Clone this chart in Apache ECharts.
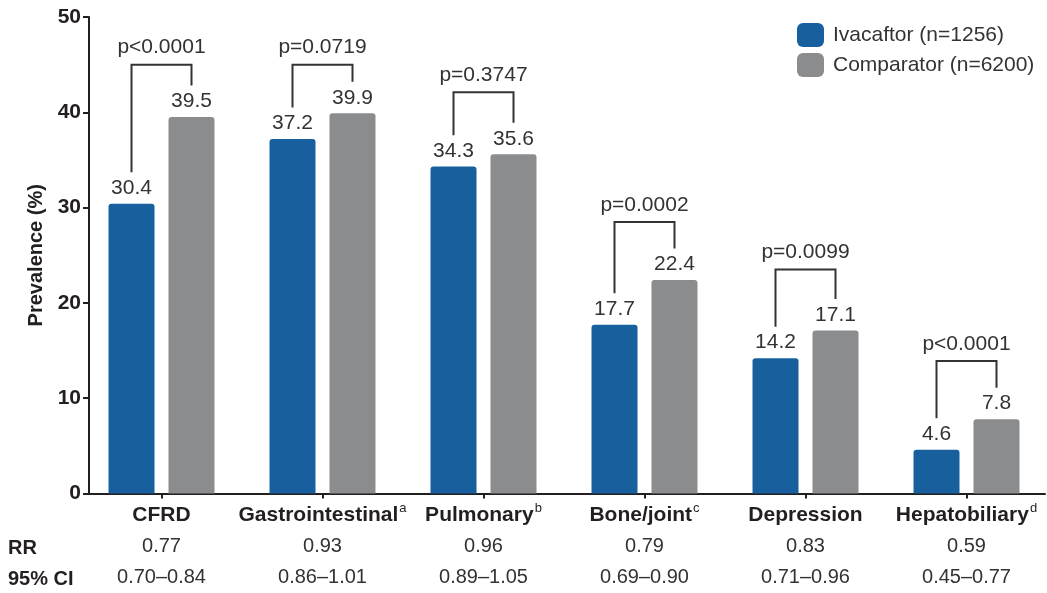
<!DOCTYPE html>
<html>
<head>
<meta charset="utf-8">
<script src="https://cdn.jsdelivr.net/npm/echarts@6/dist/echarts.min.js"></script>
<style>
  html, body { margin: 0; padding: 0; background: #ffffff; }
  #chart { width: 1047px; height: 593px; }
</style>
</head>
<body>
<div id="chart"></div>
<script>
// Comorbidity prevalence, ivacaftor vs comparator
const categories = ['CFRD', 'Gastrointestinal', 'Pulmonary', 'Bone/joint', 'Depression', 'Hepatobiliary'];
const footnotes = ['', 'a', 'b', 'c', '', 'd'];
const ivacaftor = [30.4, 37.2, 34.3, 17.7, 14.2, 4.6];
const comparator = [39.5, 39.9, 35.6, 22.4, 17.1, 7.8];
const pValues = ['p<0.0001', 'p=0.0719', 'p=0.3747', 'p=0.0002', 'p=0.0099', 'p<0.0001'];
const bracketTop = [45.0, 45.0, 42.1, 28.5, 23.5, 13.9];
const riskRatio = ['0.77', '0.93', '0.96', '0.79', '0.83', '0.59'];
const ci95 = ['0.70–0.84', '0.86–1.01', '0.89–1.05', '0.69–0.90', '0.71–0.96', '0.45–0.77'];
const seriesNames = ['Ivacaftor (n=1256)', 'Comparator (n=6200)'];
const rowHeads = ['RR', '95% CI'];

const FONT = '"Liberation Sans", Arial, Helvetica, sans-serif';
const BLUE = '#17609d';
const GREY = '#8a8c8e';
const INK = '#231f20';
const TEXT = '#333333';
const BAR_W = 46;
const BAR_GAP = 14;
const LEG_GAP = 3.3;   // space between a bar's value and its bracket leg, in axis units

const chart = echarts.init(document.getElementById('chart'), null, { renderer: 'canvas' });

const bracketData = categories.map((c, i) => [i, bracketTop[i], ivacaftor[i], comparator[i]]);

function renderBracket(params, api) {
  const i = api.value(0);
  const top = api.value(1);
  const half = (BAR_W + BAR_GAP) / 2;
  const pTop = api.coord([i, top]);
  const yL = api.coord([i, api.value(2) + LEG_GAP])[1];
  const yR = api.coord([i, api.value(3) + LEG_GAP])[1];
  const xL = pTop[0] - half;
  const xR = pTop[0] + half;
  return {
    type: 'group',
    children: [
      {
        type: 'polyline',
        shape: { points: [[xL, yL], [xL, pTop[1]], [xR, pTop[1]], [xR, yR]] },
        style: { stroke: TEXT, lineWidth: 2, fill: null }
      },
      {
        type: 'text',
        x: pTop[0],
        y: pTop[1] - 17,
        style: {
          text: pValues[i],
          align: 'center', verticalAlign: 'middle',
          textAlign: 'center', textVerticalAlign: 'middle',
          font: '21px ' + FONT,
          fill: TEXT
        }
      }
    ]
  };
}

const option = {
  backgroundColor: '#ffffff',
  animation: false,
  textStyle: { fontFamily: FONT },
  legend: {
    orient: 'vertical',
    left: 797,
    top: 23,
    padding: 0,
    itemWidth: 27,
    itemHeight: 24,
    itemGap: 6,
    icon: 'roundRect',
    data: seriesNames,
    textStyle: { fontSize: 21, color: TEXT, fontFamily: FONT, padding: [0, 0, 0, 4] }
  },
  grid: [
    { left: 81, width: 971, top: 17, bottom: 99.5 },
    { left: 89, right: 2, top: 17, bottom: 99.5 }
  ],
  xAxis: [
    {
      type: 'category',
      gridIndex: 0,
      data: categories,
      axisLine: { show: false },
      axisTick: { show: true, alignWithLabel: true, length: 5, lineStyle: { color: INK, width: 2 } },
      axisLabel: {
        margin: 7,
        interval: 0,
        formatter: function (v, i) {
          const head = '{b|' + v + '}' + (footnotes[i] ? '{sup|' + footnotes[i] + '}' : '');
          return head + '\n{v|' + riskRatio[i] + '}\n{v|' + ci95[i] + '}';
        },
        rich: {
          b: { fontSize: 21, fontWeight: 'bold', color: INK, fontFamily: FONT, lineHeight: 30 },
          sup: { fontSize: 13, color: INK, fontFamily: FONT, lineHeight: 30, padding: [0, 0, 14, 1] },
          v: { fontSize: 20, color: TEXT, fontFamily: FONT, lineHeight: 31 }
        }
      }
    },
    {
      type: 'value',
      gridIndex: 1,
      min: 0,
      max: 1,
      axisLine: { show: true, lineStyle: { color: INK, width: 2 } },
      axisTick: { show: false },
      axisLabel: { show: false },
      splitLine: { show: false }
    }
  ],
  yAxis: [
    {
      type: 'value',
      gridIndex: 0,
      min: 0,
      max: 50,
      interval: 10,
      show: false
    },
    {
      type: 'value',
      gridIndex: 1,
      min: 0,
      max: 50,
      interval: 10,
      name: 'Prevalence (%)',
      nameLocation: 'middle',
      nameGap: 36,
      nameTextStyle: { fontSize: 20, fontWeight: 'bold', color: INK, fontFamily: FONT },
      axisLine: { show: true, lineStyle: { color: INK, width: 2 } },
      axisTick: { show: true, length: 6, lineStyle: { color: INK, width: 2 } },
      axisLabel: { fontSize: 21, fontWeight: 'bold', color: INK, fontFamily: FONT, margin: 8 },
      splitLine: { show: false }
    }
  ],
  series: [
    {
      name: seriesNames[0],
      type: 'bar',
      xAxisIndex: 0,
      yAxisIndex: 0,
      data: ivacaftor,
      barWidth: BAR_W,
      barGap: (BAR_GAP / BAR_W * 100).toFixed(1) + '%',
      itemStyle: { color: BLUE, borderRadius: [3, 3, 0, 0] },
      label: { show: true, position: 'top', distance: 5, fontSize: 21, color: TEXT, fontFamily: FONT }
    },
    {
      name: seriesNames[1],
      type: 'bar',
      xAxisIndex: 0,
      yAxisIndex: 0,
      data: comparator,
      barWidth: BAR_W,
      itemStyle: { color: GREY, borderRadius: [3, 3, 0, 0] },
      label: { show: true, position: 'top', distance: 5, fontSize: 21, color: TEXT, fontFamily: FONT }
    },
    {
      type: 'custom',
      xAxisIndex: 0,
      yAxisIndex: 0,
      data: bracketData,
      renderItem: renderBracket,
      silent: true,
      z: 5
    }
  ],
  graphic: [
    {
      type: 'text', left: 8, top: 538,
      style: { text: rowHeads[0], font: 'bold 20px ' + FONT, fill: INK }
    },
    {
      type: 'text', left: 8, top: 569,
      style: { text: rowHeads[1], font: 'bold 20px ' + FONT, fill: INK }
    }
  ]
};

chart.setOption(option);
</script>
</body>
</html>
